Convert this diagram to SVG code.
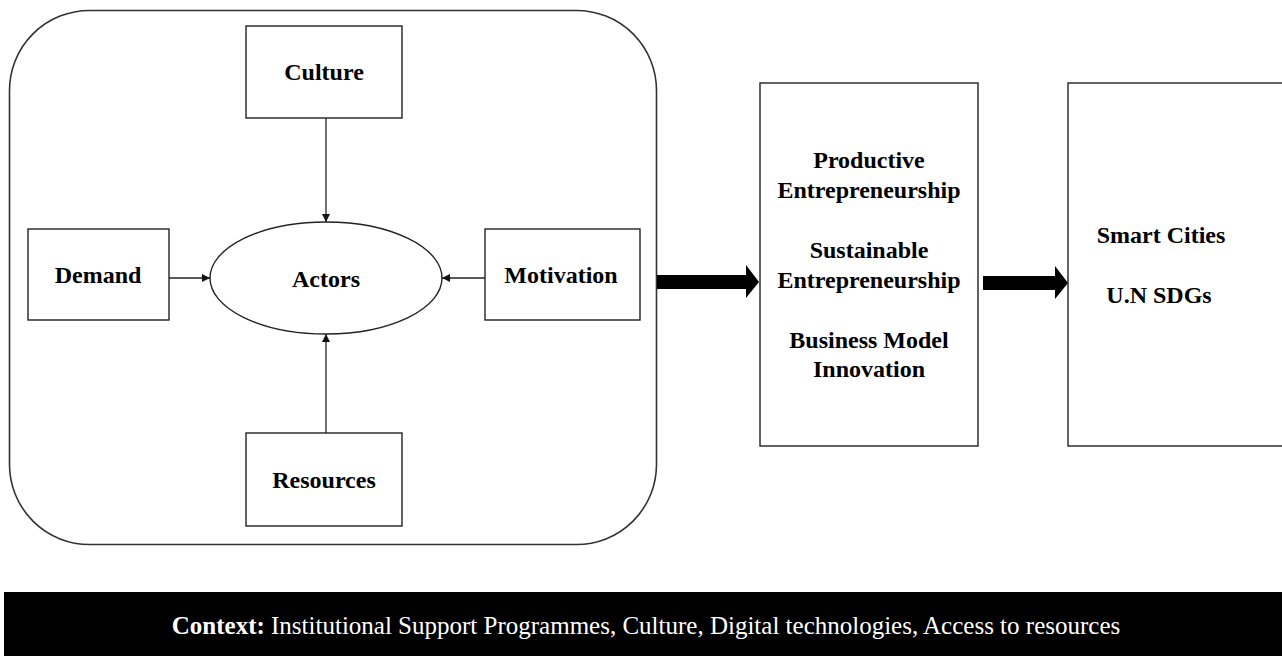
<svg xmlns="http://www.w3.org/2000/svg" width="1282" height="656" viewBox="0 0 1282 656">
<style>
.box{fill:#fff;stroke:#222;stroke-width:1.4}
.lbl{font-family:"Liberation Serif","Times New Roman",serif;font-weight:bold;font-size:24px;fill:#000;text-anchor:middle}
.ln{stroke:#222;stroke-width:1.3;fill:none}
</style>
<defs>
<marker id="ah" viewBox="0 0 10 10" refX="10" refY="5" markerWidth="8" markerHeight="8" markerUnits="userSpaceOnUse" orient="auto">
<path d="M0,0 L10,5 L0,10 z" fill="#111"/>
</marker>
</defs>
<rect width="1282" height="656" fill="#fff"/>
<g id="frame"><rect x="9.5" y="10.5" width="647" height="534" rx="80" ry="80" fill="none" stroke="#333" stroke-width="1.6"/></g>
<g id="culture"><rect class="box" x="246" y="26" width="156" height="92"/><text class="lbl" x="324" y="80">Culture</text></g>
<g id="demand"><rect class="box" x="28" y="229" width="141" height="91"/><text class="lbl" x="98" y="283">Demand</text></g>
<g id="actors"><ellipse class="box" cx="326" cy="278" rx="116" ry="56"/><text class="lbl" x="326" y="287">Actors</text></g>
<g id="motivation"><rect class="box" x="485" y="229" width="155" height="91"/><text class="lbl" x="561" y="283">Motivation</text></g>
<g id="resources"><rect class="box" x="246" y="433" width="156" height="93"/><text class="lbl" x="324" y="488">Resources</text></g>
<g id="outcomes"><rect class="box" x="760" y="83" width="218" height="363"/>
<text class="lbl" x="869" y="168">Productive</text>
<text class="lbl" x="869" y="198">Entrepreneurship</text>
<text class="lbl" x="869" y="258">Sustainable</text>
<text class="lbl" x="869" y="288">Entrepreneurship</text>
<text class="lbl" x="869" y="348">Business Model</text>
<text class="lbl" x="869" y="377">Innovation</text></g>
<g id="impact"><rect class="box" x="1068" y="83" width="230" height="363"/>
<text class="lbl" x="1161" y="243">Smart Cities</text>
<text class="lbl" x="1159" y="303">U.N SDGs</text></g>
<g id="connectors">
<line class="ln" x1="326" y1="118" x2="326" y2="222" marker-end="url(#ah)"/>
<line class="ln" x1="326" y1="433" x2="326" y2="334" marker-end="url(#ah)"/>
<line class="ln" x1="169" y1="278" x2="210" y2="278" marker-end="url(#ah)"/>
<line class="ln" x1="485" y1="278" x2="442" y2="278" marker-end="url(#ah)"/>
<path d="M657,275 L746,275 L746,265 L759,282 L746,298 L746,289 L657,289 z" fill="#000"/>
<path d="M983,276 L1055,276 L1055,266 L1068,283 L1055,299 L1055,290 L983,290 z" fill="#000"/>
</g>
<g id="context"><rect x="4" y="592" width="1282" height="70" fill="#000"/>
<text x="646" y="634" font-family="'Liberation Serif','Times New Roman',serif" font-size="25" fill="#fff" text-anchor="middle"><tspan font-weight="bold">Context:</tspan> Institutional Support Programmes, Culture, Digital technologies, Access to resources</text></g>
</svg>
